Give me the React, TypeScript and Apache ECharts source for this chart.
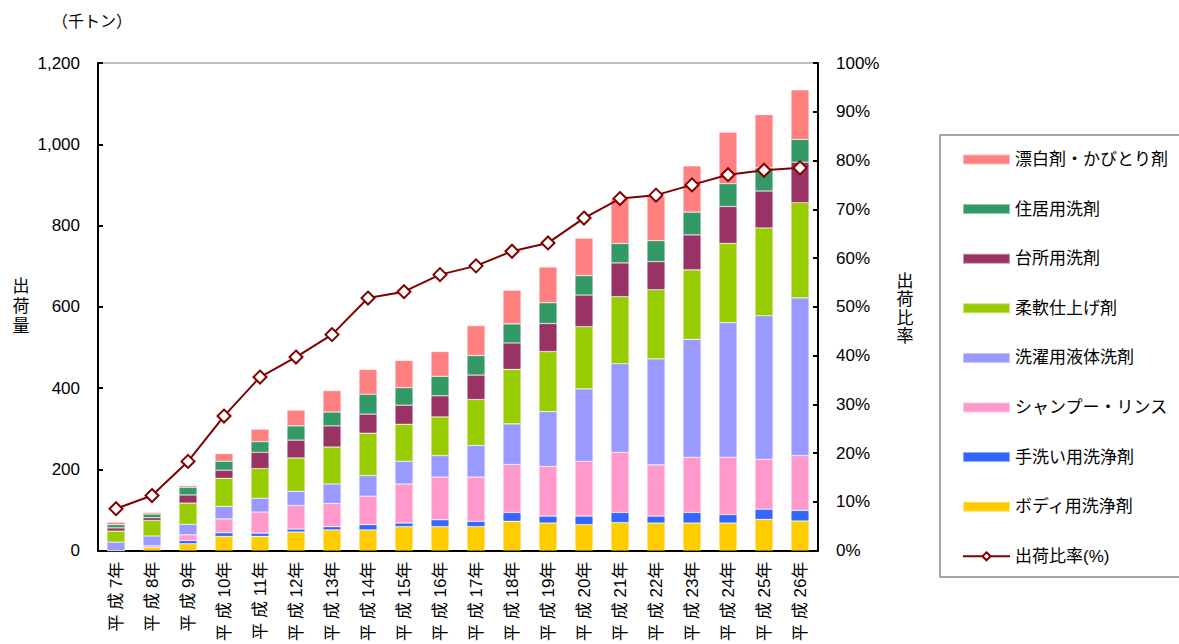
import React, { useEffect, useRef } from "react";
import * as echarts from "echarts";

const categories = [
  "平 成 7年", "平 成 8年", "平 成 9年", "平 成 10年", "平 成 11年", "平 成 12年", "平 成 13年",
  "平 成 14年", "平 成 15年", "平 成 16年", "平 成 17年", "平 成 18年", "平 成 19年", "平 成 20年",
  "平 成 21年", "平 成 22年", "平 成 23年", "平 成 24年", "平 成 25年", "平 成 26年",
];

const bodyWash = [0, 8, 17, 35, 35, 46, 51, 51, 59, 59, 59, 72, 68, 64, 69, 68, 68, 68, 77, 73];
const handWash = [0, 0, 8, 9, 8, 7, 8, 13, 9, 17, 13, 22, 17, 21, 25, 17, 26, 21, 25, 26];
const shampoo = [0, 4, 14, 34, 52, 58, 57, 70, 96, 105, 109, 118, 122, 135, 148, 126, 136, 141, 123, 135];
const liquidLaundry = [21, 24, 26, 31, 34, 35, 48, 51, 56, 53, 78, 100, 135, 178, 218, 261, 290, 331, 353, 388];
const softener = [27, 38, 52, 69, 73, 82, 91, 104, 91, 95, 113, 134, 148, 153, 165, 170, 171, 195, 216, 234];
const kitchen = [8, 7, 20, 20, 40, 44, 52, 47, 47, 52, 60, 65, 69, 78, 83, 69, 86, 91, 91, 100];
const household = [8, 9, 19, 22, 26, 35, 34, 49, 43, 48, 48, 47, 51, 48, 48, 52, 56, 56, 57, 56];
const bleach = [6, 4, 4, 19, 31, 39, 53, 61, 67, 61, 74, 83, 88, 92, 110, 109, 114, 127, 131, 122];
const shipmentRate = [8.6, 11.3, 18.3, 27.6, 35.6, 39.7, 44.3, 51.8, 53.1, 56.6, 58.4, 61.4, 63.1, 68.2, 72.2, 72.9, 75.0, 77.1, 78.0, 78.5];

const leftTicks = [0, 200, 400, 600, 800, 1000, 1200];

const FONT = "'Liberation Sans', 'Noto Sans CJK JP', sans-serif";

const barSeries = [
  { name: "ボディ用洗浄剤", data: bodyWash, color: "#FFCC00" },
  { name: "手洗い用洗浄剤", data: handWash, color: "#3366FF" },
  { name: "シャンプー・リンス", data: shampoo, color: "#FF99CC" },
  { name: "洗濯用液体洗剤", data: liquidLaundry, color: "#9999FF" },
  { name: "柔軟仕上げ剤", data: softener, color: "#99CC00" },
  { name: "台所用洗剤", data: kitchen, color: "#993366" },
  { name: "住居用洗剤", data: household, color: "#339966" },
  { name: "漂白剤・かびとり剤", data: bleach, color: "#FF8080" },
];
const lineName = "出荷比率(%)";

export default function App() {
  const ref = useRef<HTMLDivElement>(null);
  useEffect(() => {
    if (!ref.current) return;
    const chart = echarts.init(ref.current, null, { renderer: "svg" });
    const option: any = {
      animation: false,
      backgroundColor: "#ffffff",
      textStyle: { fontFamily: FONT, color: "#000" },
      grid: { left: 98, right: 361, top: 63, bottom: 91 },
      legend: {
        orient: "vertical",
        left: 962,
        top: 151,
        padding: 0,
        itemWidth: 47,
        itemHeight: 10,
        itemGap: 32.6,
        textStyle: { fontSize: 17, fontFamily: FONT, color: "#000", lineHeight: 17 },
        data: [
          ...barSeries.slice().reverse().map((s) => ({ name: s.name, icon: "rect" })),
          { name: lineName },
        ],
      },
      xAxis: {
        type: "category",
        data: categories,
        axisLine: { lineStyle: { color: "#000", width: 2 } },
        axisTick: { inside: true, length: 5, lineStyle: { color: "#000", width: 2 } },
        axisLabel: { rotate: 90, margin: 11, fontSize: 17, color: "#000", fontFamily: FONT },
      },
      yAxis: [
        {
          type: "value",
          min: leftTicks[0],
          max: leftTicks[leftTicks.length - 1],
          interval: 200,
          axisLine: { show: true, lineStyle: { color: "#000", width: 2 } },
          axisTick: { show: true, inside: true, length: 5, lineStyle: { color: "#000", width: 2 } },
          splitLine: { show: false },
          axisLabel: {
            margin: 18,
            fontSize: 17,
            color: "#000",
            fontFamily: FONT,
            formatter: (v: number) => v.toLocaleString("en-US"),
          },
        },
        {
          type: "value",
          min: 0,
          max: 100,
          interval: 10,
          position: "right",
          axisLine: { show: true, lineStyle: { color: "#000", width: 2 } },
          axisTick: { show: true, inside: true, length: 5, lineStyle: { color: "#000", width: 2 } },
          splitLine: { show: false },
          axisLabel: { margin: 18, fontSize: 17, color: "#000", fontFamily: FONT, formatter: "{value}%" },
        },
      ],
      series: [
        ...barSeries.map((s) => ({
          name: s.name,
          type: "bar",
          stack: "total",
          data: s.data,
          barWidth: 18,
          itemStyle: { color: s.color, borderColor: "rgba(255,255,255,0.45)", borderWidth: 0.6 },
        })),
        {
          name: lineName,
          type: "line",
          yAxisIndex: 1,
          data: shipmentRate,
          z: 10,
          symbol: "diamond",
          symbolSize: 13,
          lineStyle: { color: "#800000", width: 2 },
          itemStyle: { color: "#ffffff", borderColor: "#800000", borderWidth: 2 },
        },
      ],
      graphic: [
        { type: "line", shape: { x1: 98, y1: 63, x2: 818, y2: 63 }, style: { stroke: "#808080", lineWidth: 1 } },
        {
          type: "rect",
          shape: { x: 940, y: 135, width: 260, height: 442 },
          style: { fill: "none", stroke: "#A6A6A6", lineWidth: 2 },
        },
        {
          type: "text",
          x: 52,
          y: 21,
          style: { text: "（千トン）", fontSize: 16, fontFamily: FONT, fill: "#000", verticalAlign: "middle" },
        },
        {
          type: "text",
          x: 21,
          y: 306,
          style: {
            text: "出\n荷\n量",
            fontSize: 17,
            lineHeight: 20,
            fontFamily: FONT,
            fill: "#000",
            align: "center",
            verticalAlign: "middle",
          },
        },
        {
          type: "text",
          x: 905,
          y: 309,
          style: {
            text: "出\n荷\n比\n率",
            fontSize: 17,
            lineHeight: 18.5,
            fontFamily: FONT,
            fill: "#000",
            align: "center",
            verticalAlign: "middle",
          },
        },
      ],
    };
    chart.setOption(option);
    return () => chart.dispose();
  }, []);
  return (
    <div
      ref={ref}
      style={{ position: "absolute", left: 0, top: 0, width: 1179, height: 644 }}
    />
  );
}
